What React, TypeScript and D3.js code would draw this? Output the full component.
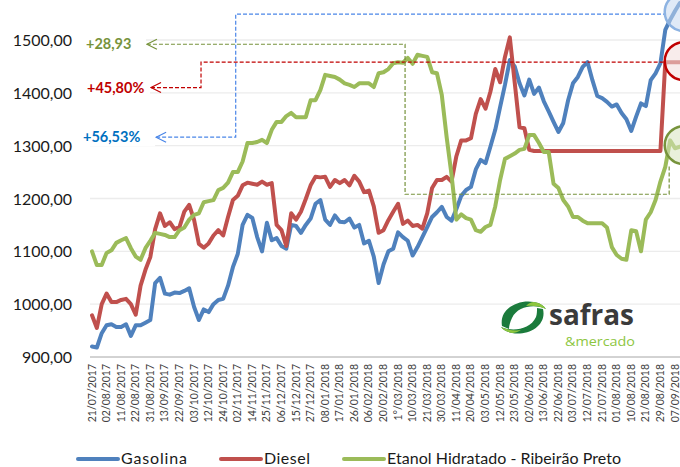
import React from 'react'
import * as d3 from 'd3'

const xLabels = [
  '21/07/2017', '02/08/2017', '11/08/2017', '22/08/2017', '31/08/2017', '13/09/2017',
  '22/09/2017', '03/10/2017', '12/10/2017', '24/10/2017', '02/11/2017', '14/11/2017',
  '25/11/2017', '06/12/2017', '15/12/2017', '27/12/2017', '08/01/2018', '17/01/2018',
  '26/01/2018', '06/02/2018', '20/02/2018', '1°/03/2018', '10/03/2018', '21/03/2018',
  '30/03/2018', '11/04/2018', '20/04/2018', '03/05/2018', '12/05/2018', '23/05/2018',
  '02/06/2018', '13/06/2018', '22/06/2018', '03/07/2018', '12/07/2018', '21/07/2018',
  '01/08/2018', '10/08/2018', '21/08/2018', '29/08/2018', '07/09/2018',
]

// three readings per label interval
const PER_LABEL = 3

const gasolina = [
  920, 918, 945, 960, 962, 957, 957, 962, 940, 960,
  960, 965, 970, 1040, 1050, 1020, 1018, 1022, 1021, 1025,
  1030, 995, 970, 990, 985, 1000, 1008, 1010, 1035, 1070,
  1095, 1150, 1169, 1163, 1127, 1100, 1154, 1121, 1125, 1110,
  1105, 1150, 1148, 1135, 1150, 1162, 1190, 1197, 1160, 1150,
  1168, 1156, 1155, 1162, 1145, 1150, 1115, 1120, 1090, 1040,
  1075, 1100, 1105, 1136, 1127, 1120, 1092, 1108, 1127, 1146,
  1165, 1174, 1184, 1165, 1158, 1180, 1205, 1216, 1222, 1255,
  1273, 1267, 1298, 1330, 1373, 1415, 1462, 1450, 1418, 1395,
  1425, 1398, 1410, 1384, 1365, 1345, 1326, 1343, 1386, 1418,
  1430, 1449, 1458, 1424, 1394, 1390, 1383, 1374, 1378, 1362,
  1350, 1328, 1355, 1380, 1375, 1424, 1437, 1456, 1519, 1538,
  1555, 1570,
]

const diesel = [
  979, 955, 1000, 1020, 1004, 1004, 1008, 1010, 1000, 980,
  1035, 1065, 1089, 1142, 1172, 1148, 1155, 1142, 1146, 1175,
  1188, 1160, 1114, 1107, 1115, 1130, 1140, 1130, 1165, 1197,
  1205, 1225, 1230, 1228, 1226, 1232, 1226, 1229, 1150, 1140,
  1110, 1172, 1160, 1175, 1199, 1225, 1241, 1240, 1241, 1222,
  1235, 1229, 1235, 1225, 1243, 1232, 1212, 1215, 1185, 1135,
  1140, 1159, 1175, 1190, 1152, 1158, 1148, 1150, 1143, 1172,
  1220, 1235, 1235, 1241, 1232, 1280, 1310, 1310, 1314, 1360,
  1388, 1370, 1402, 1445, 1420, 1468, 1505, 1420, 1335, 1333,
  1292, 1290, 1290, 1290, 1290, 1290, 1290, 1290, 1290, 1290,
  1290, 1290, 1290, 1290, 1290, 1290, 1290, 1290, 1290, 1290,
  1290, 1290, 1290, 1290, 1290, 1290, 1290, 1290, 1458, 1458,
  1458, 1458,
]

const etanol = [
  1100, 1074, 1074, 1097, 1102, 1116, 1121, 1125, 1106, 1090,
  1084, 1106, 1120, 1135, 1133, 1131, 1127, 1127, 1140, 1145,
  1160, 1169, 1172, 1193, 1195, 1197, 1216, 1220, 1230, 1250,
  1250, 1270, 1305, 1305, 1307, 1311, 1305, 1330, 1345, 1345,
  1356, 1362, 1354, 1354, 1354, 1386, 1386, 1405, 1434, 1432,
  1430, 1425, 1418, 1415, 1411, 1418, 1418, 1418, 1411, 1437,
  1439, 1445, 1456, 1458, 1457, 1466, 1455, 1472, 1470, 1468,
  1439, 1437, 1396, 1316, 1245, 1160, 1170, 1163, 1160, 1140,
  1137, 1146, 1150, 1185, 1235, 1275, 1280, 1285, 1292, 1294,
  1320, 1320, 1305, 1288, 1288, 1228, 1220, 1197, 1185, 1165,
  1165, 1158, 1153, 1153, 1153, 1153, 1145, 1108, 1093, 1086,
  1084, 1140, 1138, 1100, 1160, 1174, 1197, 1232, 1260, 1310,
  1295, 1298,
]

const yTicks = [900, 1000, 1100, 1200, 1300, 1400, 1500]

const seriesNames = ['Gasolina', 'Diesel', 'Etanol Hidratado - Ribeirão Preto']
const seriesColors = ['#4F81BD', '#C0504D', '#9BBB59']

// annotation guides: [label index, value] pairs
const gasGuide = [[4.4, 1316], [9.86, 1316], [9.86, 1549], [39.3, 1549]]
const dieselGuide = [[4.05, 1410], [7.48, 1410], [7.48, 1458], [39.3, 1458]]
const etanolGuide = [[3.77, 1492], [21.48, 1492], [21.48, 1208], [39.6, 1208], [39.6, 1263]]
const pctLabels = ['+56,53%', '+45,80%', '+28,93']

const W = 680
const H = 467
const FONT = 'Lato, "Open Sans", sans-serif'

export default function App() {
  const x = d3.scaleLinear().domain([0, xLabels.length - 1]).range([92, 675])
  const y = d3.scaleLinear().domain([900, 1500]).range([357, 40])

  const line = d3.line<number>()
    .x((_, i) => x(i / PER_LABEL))
    .y(d => y(d))
    .curve(d3.curveLinear)

  const guide = d3.line<number[]>().x(d => x(d[0])).y(d => y(d[1]))

  const series = [gasolina, diesel, etanol]
  const guides = [gasGuide, dieselGuide, etanolGuide]
  const guideColors = ['#4A86E8', '#C00000', '#77933C']
  const labelColors = ['#0070C0', '#C00000', '#77933C']
  const labelX = [83, 87, 86]

  const arrow = (g: number[][], color: string) => {
    const tx = x(g[0][0])
    const ty = y(g[0][1])
    return (
      <path d={`M${tx + 10},${ty - 5} L${tx},${ty} L${tx + 10},${ty + 5}`}
        fill="none" stroke={color} strokeWidth={1.2} />
    )
  }

  const circles = [
    { v: 1553, fill: '#C6D9F1', stroke: '#8DB3E2' },
    { v: 1460, fill: '#F2DCDB', stroke: '#C00000' },
    { v: 1301, fill: '#D7E4BD', stroke: '#77933C' },
  ]

  const legendX = [78, 221, 344]

  return (
    <svg width={W} height={H} style={{ position: 'absolute', left: 0, top: 0, background: '#fff' }}
      fontFamily={FONT}>
      {/* gridlines */}
      {yTicks.map(t => (
        <line key={t} x1={90} x2={W} y1={y(t)} y2={y(t)}
          stroke={t === 900 ? '#a6a6a6' : '#ececec'} strokeWidth={t === 900 ? 1 : 1.3} />
      ))}
      {yTicks.map(t => (
        <text key={'l' + t} x={72} y={y(t) + 6} textAnchor="end" fontSize={16} fill="#1a1a1a">
          {d3.format('.2f')(t).replace('.', ',')}
        </text>
      ))}

      {/* x labels */}
      {xLabels.map((lab, i) => (
        <text key={lab} transform={`translate(${x(i) + 3.5},364) rotate(-90)`} textAnchor="end"
          fontSize={10.5} fill="#404040">{lab}</text>
      ))}

      {/* logo */}
      <g>
        <path d="M502,326 C499,309 518,299 534,302 C540,303 544,306 546,309 C536,304 518,305 512,318 C510,322 509,326 509,329 Z"
          fill="#1B7B3C" />
        <path d="M534,302 C540,303 544,306 546,309 C540,306 532,305 526,306 C529,303 531,302 534,302 Z"
          fill="#8DC63F" />
        <path d="M543,309 C547,326 528,336 512,333 C507,332 503,330 501,327 C512,332 530,330 536,317 C537,314 537,311 537,308 Z"
          fill="#1B7B3C" />
        <path d="M512,333 C507,332 503,330 501,327 C507,330 515,331 521,330 C518,332 515,333 512,333 Z"
          fill="#8DC63F" />
        <text x={549} y={325} fontSize={28} fontWeight={700} fill="#3b3b3b"
          fontFamily='"Open Sans", sans-serif' textLength={85} lengthAdjust="spacingAndGlyphs">safras</text>
        <text x={565} y={346} fontSize={12.5} fill="#8DC63F"
          fontFamily='"Open Sans", sans-serif' textLength={70} lengthAdjust="spacingAndGlyphs">&amp;mercado</text>
      </g>

      {/* series */}
      {series.map((s, i) => (
        <path key={i} d={line(s) || ''} fill="none" stroke={seriesColors[i]} strokeWidth={4}
          strokeLinejoin="round" strokeLinecap="round" />
      ))}

      {/* annotation guides */}
      {guides.map((g, i) => (
        <g key={'g' + i}>
          <path d={guide(g) || ''} fill="none" stroke={guideColors[i]} strokeWidth={1.2}
            strokeDasharray="4,2" />
          {arrow(g, guideColors[i])}
        </g>
      ))}
      {guides.map((g, i) => (
        <g key={'p' + i}>
          <rect x={80} y={y(g[0][1]) - 9} width={x(g[0][0]) - 81} height={18} fill="#fff" />
          <text x={labelX[i]} y={y(g[0][1]) + 5} fontSize={14.5} fontWeight={700}
            fill={labelColors[i]}>{pctLabels[i]}</text>
        </g>
      ))}

      {/* highlight circles */}
      {circles.map((c, i) => (
        <circle key={'c' + i} cx={x(40.6)} cy={y(c.v)} r={19} fill={c.fill} fillOpacity={0.55}
          stroke={c.stroke} strokeWidth={2.5} />
      ))}

      {/* legend */}
      {seriesNames.map((n, i) => (
        <g key={n}>
          <line x1={legendX[i]} x2={legendX[i] + 40} y1={459} y2={459} stroke={seriesColors[i]}
            strokeWidth={4} strokeLinecap="round" />
          <text x={legendX[i] + 43} y={464} fontSize={16} fill="#1a1a1a"
            textLength={[66, 46, 234][i]} lengthAdjust="spacing">{n}</text>
        </g>
      ))}
    </svg>
  )
}
